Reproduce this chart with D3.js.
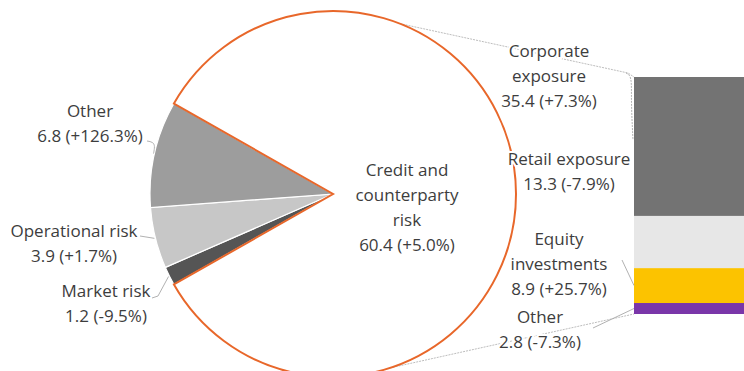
<!DOCTYPE html>
<html>
<head>
<meta charset="utf-8">
<script src="https://cdn.jsdelivr.net/npm/d3@7"></script>
<style>
  body { margin: 0; background: #fff; }
  text { font-family: "Open Sans", sans-serif; font-size: 17px; fill: #3d3d3d; }
</style>
</head>
<body>
<svg width="744" height="371"></svg>
<script>
// pie: risk-weighted assets by risk type
const pieNames = ["Market risk", "Operational risk", "Other", "Credit and counterparty risk"];
const pieValues = [1.2, 3.9, 6.8, 60.4];
const pieChanges = ["-9.5%", "+1.7%", "+126.3%", "+5.0%"];
const pieColors = ["#555555", "#c7c7c7", "#9d9d9d", "#ffffff"];

// bar: breakdown of credit and counterparty risk (bottom to top)
const barNames = ["Other", "Equity investments", "Retail exposure", "Corporate exposure"];
const barValues = [2.8, 8.9, 13.3, 35.4];
const barChanges = ["-7.3%", "+25.7%", "-7.9%", "+7.3%"];
const barColors = ["#7a36a9", "#fcc300", "#e7e7e7", "#737373"];

const orange = "#e8672a";
const fmt = d3.format(".1f");

const svg = d3.select("svg");
const cx = 333, cy = 194, r = 183;

const total = d3.sum(pieValues);
const small = d3.sum(pieValues.slice(0, 3));
const start = 1.5 * Math.PI - Math.PI * small / total;

const pie = d3.pie().sort(null).startAngle(start).endAngle(start + 2 * Math.PI);
const arcs = pie(pieValues);
const arc = d3.arc().innerRadius(0).outerRadius(r);
const edge = d3.arc().innerRadius(r + 1).outerRadius(r + 1);

// bar scale
const y = d3.scaleLinear().domain([0, d3.sum(barValues)]).range([314, 77]);
const barX = 634;
const cum = d3.cumsum(barValues);
const segs = barValues.map((v, i) => ({ v, i, y0: cum[i] - v, y1: cum[i] }));

const gLines = svg.append("g")
    .attr("fill", "none")
    .attr("stroke", "#b5b5b5")
    .attr("stroke-width", 0.9)
    .attr("stroke-dasharray", "2,1");

// connectors from the credit slice to the bar
const polar = a => [cx + r * Math.sin(a), cy - r * Math.cos(a)];
const topA = 21.4 * Math.PI / 180, botA = 161.9 * Math.PI / 180;
gLines.append("path").attr("d", d3.line()([polar(topA), [628, 73], [barX, y(d3.sum(barValues))]]));
gLines.append("path").attr("d", d3.line()([polar(botA), [barX, y(0)]]));

// bar segments
svg.append("g").selectAll("rect")
  .data(segs)
  .join("rect")
    .attr("x", barX)
    .attr("width", 120)
    .attr("y", d => y(d.y1))
    .attr("height", d => y(d.y0) - y(d.y1))
    .attr("fill", d => barColors[d.i]);

// pie slices
const g = svg.append("g").attr("transform", `translate(${cx},${cy})`);
g.selectAll("path.small")
  .data(arcs.slice(0, 3))
  .join("path")
    .attr("class", "small")
    .attr("d", arc)
    .attr("fill", (d, i) => pieColors[i])
    .attr("stroke", "#fff")
    .attr("stroke-width", 1.2);
g.append("path")
    .attr("d", arc(arcs[3]))
    .attr("fill", "#fff")
    .attr("stroke", orange)
    .attr("stroke-width", 2);

// leader lines
const leaders = svg.append("g")
    .attr("fill", "none")
    .attr("stroke", "#a8a8a8")
    .attr("stroke-width", 0.9);
const onEdge = i => { const c = edge.centroid(arcs[i]); return [cx + c[0], cy + c[1]]; };
leaders.append("path").attr("d", d3.line().curve(d3.curveBasis)([[147, 141], [153, 142], [155, 146], onEdge(2)]));
leaders.append("path").attr("d", d3.line()([[140, 236], onEdge(1)]));
leaders.append("path").attr("d", d3.line()([[152, 298], [158, 296], onEdge(0)]));
leaders.append("path").attr("d", d3.line().curve(d3.curveBasis)([[626, 73], [632, 76], [631, 100], [633, 140]]))
    .attr("stroke-dasharray", "2,1");
leaders.append("path").attr("d", d3.line()([[622, 260], [barX, y(segs[1].y0 + segs[1].v / 2)]]));
leaders.append("path").attr("d", d3.line()([[593, 328], [barX, y(segs[0].v / 2)]]));

// labels
function label(lines, x, y0, halo) {
  const t = svg.append("text").attr("text-anchor", "middle");
  if (halo) t.attr("stroke", "#fff").attr("stroke-width", 4).attr("paint-order", "stroke");
  lines.forEach((s, k) => t.append("tspan").attr("x", x).attr("y", y0 + k * 25).text(s));
}
const val = (v, c) => `${fmt(v)} (${c})`;

label(["Credit and", "counterparty", "risk", val(pieValues[3], pieChanges[3])], 407, 176);
label([pieNames[2], val(pieValues[2], pieChanges[2])], 90, 117);
label([pieNames[1], val(pieValues[1], pieChanges[1])], 74, 237);
label([pieNames[0], val(pieValues[0], pieChanges[0])], 106, 297);

label(["Corporate", "exposure", val(barValues[3], barChanges[3])], 549, 57, true);
label([barNames[2], val(barValues[2], barChanges[2])], 569, 165, true);
label(["Equity", "investments", val(barValues[1], barChanges[1])], 559, 245, true);
label([barNames[0], val(barValues[0], barChanges[0])], 540, 323, true);
</script>
</body>
</html>
